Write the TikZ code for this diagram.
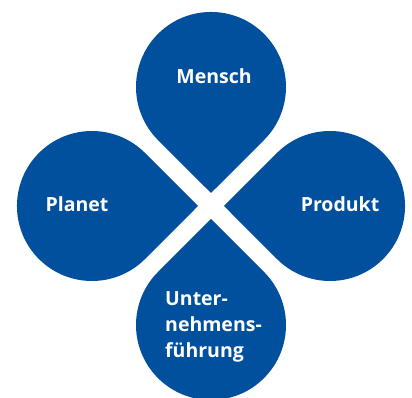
\documentclass[tikz,border=0pt]{standalone}
\usepackage{fontspec}
\setmainfont{Open Sans}
\usepackage{tikz}
\usetikzlibrary{positioning}
\definecolor{dropblue}{RGB}{0,80,158}
\tikzset{droptext/.style={text=white,inner sep=0pt,font=\bfseries\fontsize{19.5}{26}\selectfont}}

\begin{document}
\begin{tikzpicture}[x=1pt,y=1pt]
        \useasboundingbox (-211,-192) rectangle (201,206);
        \foreach \turn in {0,90,180,270}
            \fill[dropblue,rotate=\turn] (0,13) -- (53.03,66) arc[start angle=-45,end angle=225,radius=75] -- cycle;
        \node [droptext] (mensch) at (3,130) {Mensch};
        \node [droptext] (planet) at (-134,2) {Planet};
        \node [droptext] (produkt) at (129,2) {Produkt};
        \node [droptext,align=left,anchor=west] (fuehrung) at (-46,-121) {Unter-\\nehmens-\\führung};
    \end{tikzpicture}
\end{document}
